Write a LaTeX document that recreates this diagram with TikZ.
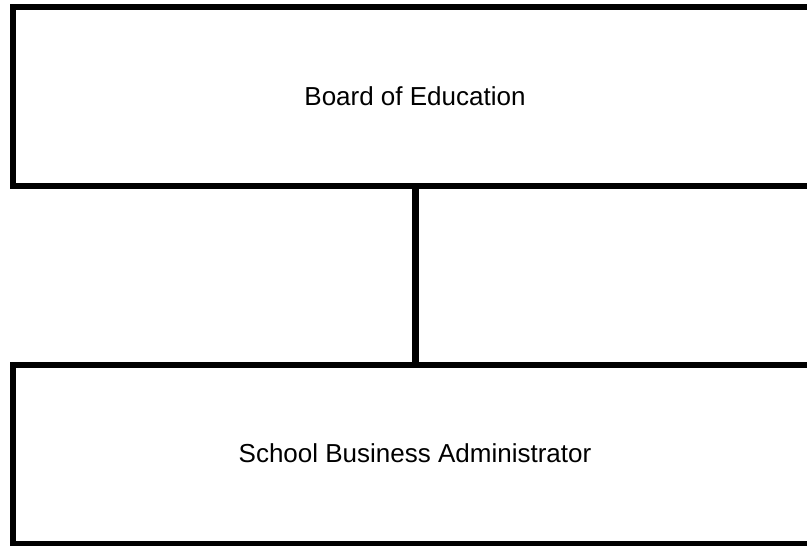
\documentclass[tikz,border=0pt]{standalone}
\usepackage{fontspec}
\setmainfont{Liberation Sans}
\begin{document}
\begin{tikzpicture}[x=1pt,y=1pt,
  orgbox/.style={draw=black, line width=6pt, minimum width=804pt, minimum height=179pt,
    inner sep=0pt, outer sep=0pt, font=\fontsize{26}{30}\selectfont, align=center},
  link/.style={draw=black, line width=7pt}]
\useasboundingbox (0,0) rectangle (807,546);
\node[orgbox] (board) at (415,449.5) {Board of Education};
\node[orgbox] (sba) at (415,91.5) {\raisebox{2pt}{School Business Administrator}};
\draw[link] (board.south) -- (sba.north);
\end{tikzpicture}
\end{document}
